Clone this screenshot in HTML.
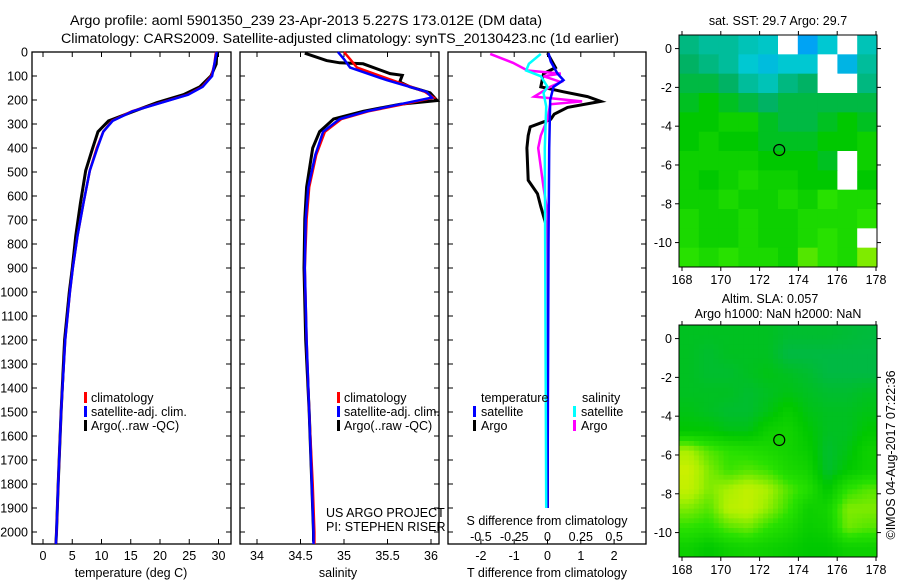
<!DOCTYPE html>
<html><head><meta charset="utf-8"><style>
html,body{margin:0;padding:0;background:#fff;}
svg{display:block;font-family:"Liberation Sans",sans-serif;}
text{fill:#000;}
</style></head><body>
<svg id="fig" width="900" height="580" viewBox="0 0 900 580" xmlns="http://www.w3.org/2000/svg">
<g font-size="13.5">
<text x="70" y="25" textLength="472" lengthAdjust="spacingAndGlyphs">Argo profile: aoml 5901350_239 23-Apr-2013 5.227S 173.012E (DM data)</text>
<text x="61" y="43" textLength="558" lengthAdjust="spacingAndGlyphs">Climatology: CARS2009. Satellite-adjusted climatology: synTS_20130423.nc (1d earlier)</text>
</g>
<g id="layer"></g>
</svg>
<script>
// ---------- profile data ----------
const tDepth = [0,10,50,100,145,178,211,247,287,332,400,494,631,765,900,1000,1200,1500,1800,2000,2050];
const tClim  = [29.6,29.5,29.3,28.8,27.2,24.7,20.2,15.2,11.8,10.3,9.2,8.0,6.9,5.9,5.1,4.6,3.8,3.1,2.6,2.3,2.2];
const tSat   = [29.7,29.6,29.3,28.9,27.3,24.8,20.3,15.3,11.9,10.3,9.3,8.0,6.9,5.9,5.1,4.6,3.8,3.1,2.6,2.3,2.2];
const tArgo  = [29.7,29.7,29.6,28.7,26.8,24.0,19.5,15.5,11.2,9.4,8.5,7.3,6.4,5.6,5.0,4.5,3.7,3.1,2.6,2.3,2.2];

const sDepth = [0,30,65,117,166,190,218,247,279,332,429,563,696,900,1200,1500,1800,2000,2050];
const sSat   = [34.93,35.0,35.07,35.49,35.95,36.01,35.64,35.26,34.95,34.76,34.67,34.59,34.56,34.55,34.57,34.6,34.63,34.65,34.65];
const sClim  = [35.0,35.07,35.15,35.55,35.93,36.03,35.68,35.28,34.97,34.78,34.68,34.6,34.57,34.55,34.57,34.6,34.64,34.66,34.66];
const sArgoDepth = [5,36,45,49,90,97,125,145,170,202,218,247,279,332,400,563,696,900,1200,1500,1800,2000,2040];
const sArgo  = [34.55,34.8,34.95,35.22,35.53,35.67,35.64,35.76,35.99,36.07,35.64,35.22,34.88,34.72,34.64,34.57,34.55,34.54,34.56,34.6,34.63,34.65,34.65];

const dTArgoDepth = [5,65,90,145,166,186,206,231,259,280,312,348,400,534,591,644,712,800,1900];
const dTArgo = [0,0.24,-0.12,-0.2,0.48,1.2,1.6,0.6,0.2,0.1,-0.52,-0.58,-0.62,-0.58,-0.3,-0.2,-0.06,0,0];
const dTSatDepth = [5,40,90,117,145,200,400,800,1900];
const dTSat = [0.03,0.1,0.3,0.48,0.18,0.08,0.05,0.03,0.0];
const dSArgoDepth = [8,45,77,90,101,125,145,186,206,218,280,348,400,563,672,1900];
const dSArgo = [-0.43,-0.26,-0.15,0.1,-0.03,0.1,0.02,-0.1,0.26,0.02,0,-0.05,-0.07,-0.03,0,0];
const dSSatDepth = [8,49,77,101,145,170,227,400,1900];
const dSSat = [-0.05,-0.14,-0.16,-0.05,0,-0.03,-0.01,-0.02,-0.01];

const depthTicks = [0,100,200,300,400,500,600,700,800,900,1000,1100,1200,1300,1400,1500,1600,1700,1800,1900,2000];
const tTicks = [0,5,10,15,20,25,30];
const sTicks = [34,34.5,35,35.5,36];
const dTTicks = [-2,-1,0,1,2];
const dSTicks = [-0.5,-0.25,0,0.25,0.5];
const dSTickLabels = ["-0.5","-0.25","0","0.25","0.5"];

// ---------- map data (0..1 colour index, null = no data) ----------
const lonTicks = [168,170,172,174,176,178];
const latTicks = [0,-2,-4,-6,-8,-10];
const sstGrid = [
[0.35,0.3,0.3,0.25,0.22,null,0.05,0.2,null,0.25],
[0.4,0.35,0.3,0.2,0.15,0.2,0.2,null,0.12,0.3],
[0.45,0.45,0.4,0.3,0.25,0.35,0.4,null,null,0.35],
[0.5,0.55,0.5,0.45,0.4,0.45,0.45,0.45,0.45,0.45],
[0.55,0.55,0.6,0.6,0.5,0.45,0.45,0.5,0.55,0.5],
[0.55,0.6,0.55,0.55,0.5,0.5,0.5,0.55,0.55,0.6],
[0.6,0.6,0.6,0.6,0.55,0.55,0.55,0.5,null,0.6],
[0.6,0.55,0.6,0.65,0.6,0.6,0.55,0.55,null,0.55],
[0.6,0.6,0.65,0.6,0.6,0.65,0.6,0.7,0.65,0.65],
[0.65,0.6,0.6,0.65,0.6,0.6,0.65,0.65,0.65,0.7],
[0.65,0.6,0.6,0.65,0.6,0.6,0.65,0.7,0.65,null],
[0.7,0.65,0.7,0.65,0.65,0.6,0.75,0.7,0.65,0.8]];
const slaGrid = [
[0.5,0.5,0.5,0.5,0.5,0.48,0.48,0.48,0.47,0.46],
[0.5,0.48,0.5,0.5,0.5,0.45,0.45,0.45,0.45,0.45],
[0.5,0.48,0.48,0.5,0.52,0.5,0.48,0.45,0.45,0.45],
[0.5,0.5,0.5,0.48,0.5,0.52,0.5,0.48,0.48,0.5],
[0.52,0.5,0.48,0.48,0.52,0.58,0.52,0.5,0.5,0.52],
[0.55,0.55,0.52,0.52,0.6,0.62,0.55,0.5,0.5,0.55],
[0.85,0.75,0.7,0.68,0.65,0.62,0.58,0.48,0.52,0.6],
[0.92,0.8,0.72,0.75,0.72,0.65,0.62,0.48,0.55,0.6],
[0.9,0.8,0.85,0.9,0.85,0.75,0.68,0.55,0.7,0.75],
[0.8,0.75,0.88,0.9,0.82,0.72,0.6,0.62,0.8,0.8],
[0.7,0.68,0.75,0.78,0.7,0.65,0.58,0.6,0.78,0.75],
[0.6,0.55,0.6,0.62,0.6,0.58,0.55,0.55,0.6,0.6]];
const argoLon = 173.012, argoLat = -5.227;

// ---------- helpers ----------
const NS = "http://www.w3.org/2000/svg";
const layer = document.getElementById('layer');
function mk(tag, attrs, parent){
  const e = document.createElementNS(NS, tag);
  for (const k in attrs) e.setAttribute(k, attrs[k]);
  (parent||layer).appendChild(e);
  return e;
}
const yTop = 52, yPer = 0.24, yBot = 544;
const yD = d => yTop + d*yPer;

function panel(name, x0, x1){
  const g = mk('g', {});
  
  
  const r = mk('rect', {x:x0, y:yTop, width:x1-x0, height:yBot-yTop, fill:'none', stroke:'#000', 'stroke-width':1.3}, g);
  
  
  depthTicks.forEach(d => {
    const t1 = mk('line', {x1:x0, x2:x0+5, y1:yD(d), y2:yD(d), stroke:'#000'}, g);
    
    
    const t2 = mk('line', {x1:x1-5, x2:x1, y1:yD(d), y2:yD(d), stroke:'#000'}, g);
    
    
  });
  return g;
}
function xTicks(g, x0, x1, ticks, fx, labels, ly){
  ticks.forEach((v,i) => {
    const x = fx(v);
    const a = mk('line', {x1:x, x2:x, y1:yTop, y2:yTop+5, stroke:'#000'}, g);
    
    
    const b = mk('line', {x1:x, x2:x, y1:yBot-5, y2:yBot, stroke:'#000'}, g);
    
    
    if (labels){
      const t = mk('text', {x:x, y:ly, 'text-anchor':'middle', 'font-size':12.5}, g);
      
      
      t.textContent = labels[i];
    }
  });
}
function series(g, name, xs, ds, fx, color, w){
  const pts = xs.map((v,i) => fx(v).toFixed(1) + ',' + yD(ds[i]).toFixed(1)).join(' ');
  const p = mk('polyline', {points:pts, fill:'none', stroke:color, 'stroke-width':w, 'stroke-linejoin':'miter'}, g);
  
  
}
function txt(g, name, s, x, y, size, anchor){
  const t = mk('text', {x:x, y:y, 'font-size':size||12.5, 'text-anchor':anchor||'start'}, g);
  
  
  t.textContent = s;
  return t;
}
function legBar(g, name, x, y, color){
  const r = mk('rect', {x:x, y:y-10, width:3, height:11, fill:color}, g);
  
  
}

// depth labels
const dl = mk('g', {});


depthTicks.forEach(d => txt(dl, 'depth-tick-label', String(d), 28, yD(d)+4.5, 12.5, 'end'));

// ---------- panel 1: temperature ----------
const fT = v => 43 + v*5.85;
const p1 = panel('temperature-panel', 32, 231);
xTicks(p1, 32, 231, tTicks, fT, tTicks.map(String), 560);
txt(p1, 'x-axis-title-temperature', 'temperature (deg C)', 131, 577, 12.5, 'middle');
series(p1, 'argo-temperature-line', tArgo, tDepth, fT, '#000', 3);
series(p1, 'climatology-temperature-line', tClim, tDepth, fT, '#f00', 2.5);
series(p1, 'satellite-temperature-line', tSat, tDepth, fT, '#00f', 2.5);
legBar(p1, 'legend-climatology-swatch', 84, 402, '#f00');
txt(p1, 'legend-climatology', 'climatology', 91, 402);
legBar(p1, 'legend-satellite-swatch', 84, 416, '#00f');
txt(p1, 'legend-satellite', 'satellite-adj. clim.', 91, 416);
legBar(p1, 'legend-argo-swatch', 84, 430, '#000');
txt(p1, 'legend-argo', 'Argo(..raw -QC)', 91, 430);

// ---------- panel 2: salinity ----------
const fS = v => 257 + (v-34)*87;
const p2 = panel('salinity-panel', 240, 439);
xTicks(p2, 240, 439, sTicks, fS, ['34','34.5','35','35.5','36'], 560);
txt(p2, 'x-axis-title-salinity', 'salinity', 338, 577, 12.5, 'middle');
series(p2, 'argo-salinity-line', sArgo, sArgoDepth, fS, '#000', 3);
series(p2, 'climatology-salinity-line', sClim, sDepth, fS, '#f00', 2.5);
series(p2, 'satellite-salinity-line', sSat, sDepth, fS, '#00f', 2.5);
legBar(p2, 'legend-climatology-swatch', 337, 402, '#f00');
txt(p2, 'legend-climatology', 'climatology', 344, 402);
legBar(p2, 'legend-satellite-swatch', 337, 416, '#00f');
txt(p2, 'legend-satellite', 'satellite-adj. clim.', 344, 416);
legBar(p2, 'legend-argo-swatch', 337, 430, '#000');
txt(p2, 'legend-argo', 'Argo(..raw -QC)', 344, 430);
txt(p2, 'project-credit', 'US ARGO PROJECT', 326, 517);
txt(p2, 'pi-credit', 'PI: STEPHEN RISER', 326, 531);

// ---------- panel 3: differences ----------
const fDT = v => 547.5 + v*33.3;
const fDS = v => 547.5 + v*133.2;
const p3 = panel('difference-panel', 448, 646);
xTicks(p3, 448, 646, dTTicks, fDT, dTTicks.map(String), 560);
txt(p3, 's-diff-axis-title', 'S difference from climatology', 547, 525, 12.5, 'middle');
series(p3, 'argo-t-diff-line', dTArgo, dTArgoDepth, fDT, '#000', 3);
series(p3, 'argo-s-diff-line', dSArgo, dSArgoDepth, fDS, '#f0f', 2.5);
series(p3, 'satellite-t-diff-line', dTSat, dTSatDepth, fDT, '#00f', 2.5);
series(p3, 'satellite-s-diff-line', dSSat, dSSatDepth, fDS, '#0ff', 2.5);
dSTicks.forEach((v,i) => txt(p3, 's-diff-tick-label', dSTickLabels[i], fDS(v), 541, 12.5, 'middle'));
txt(p3, 't-diff-axis-title', 'T difference from climatology', 547, 577, 12.5, 'middle');
txt(p3, 'legend-temperature-heading', 'temperature', 481, 402);
txt(p3, 'legend-salinity-heading', 'salinity', 582, 402);
legBar(p3, 'legend-t-sat-swatch', 473, 416, '#00f');
txt(p3, 'legend-t-satellite', 'satellite', 481, 416);
legBar(p3, 'legend-t-argo-swatch', 473, 430, '#000');
txt(p3, 'legend-t-argo', 'Argo', 481, 430);
legBar(p3, 'legend-s-sat-swatch', 573, 416, '#0ff');
txt(p3, 'legend-s-satellite', 'satellite', 581, 416);
legBar(p3, 'legend-s-argo-swatch', 573, 430, '#f0f');
txt(p3, 'legend-s-argo', 'Argo', 581, 430);

// ---------- maps ----------
const stops = [[0,[0,150,255]],[0.2,[0,200,210]],[0.4,[0,178,100]],[0.55,[0,200,0]],[0.7,[40,225,0]],[0.85,[170,240,0]],[1,[240,240,0]]];
function cmap(v){
  for (let i=1;i<stops.length;i++){
    if (v <= stops[i][0]){
      const a = stops[i-1], b = stops[i], t = (v-a[0])/(b[0]-a[0]);
      const c = a[1].map((x,k)=>Math.round(x+(b[1][k]-x)*t));
      return 'rgb('+c.join(',')+')';
    }
  }
  return 'rgb(240,240,0)';
}
function sample(grid, fr, fc){
  const rows = grid.length, cols = grid[0].length;
  const r = Math.min(Math.max(fr-0.5,0),rows-1), c = Math.min(Math.max(fc-0.5,0),cols-1);
  const r0 = Math.floor(r), c0 = Math.floor(c);
  const r1 = Math.min(r0+1,rows-1), c1 = Math.min(c0+1,cols-1);
  const tr = r-r0, tc = c-c0;
  return grid[r0][c0]*(1-tr)*(1-tc)+grid[r0][c1]*(1-tr)*tc+grid[r1][c0]*tr*(1-tc)+grid[r1][c1]*tr*tc;
}
function drawMap(name, grid, top, smooth){
  const mx0 = 679, mx1 = 877, lonPer = 19.4;
  const latTop = 0.7, latPer = 19.4;
  const fx = lon => 682 + (lon-168)*lonPer;
  const fy = lat => top + (latTop - lat)*latPer;
  const g = mk('g', {});
  
  
  const h = 232;
  const rows = grid.length, cols = grid[0].length;
  const cw = (mx1-mx0)/cols, ch = h/rows;
  if (smooth){
    const sub = 4;
    for (let r=0;r<rows*sub;r++) for (let c=0;c<cols*sub;c++){
      const v = sample(grid, (r+0.5)/sub, (c+0.5)/sub);
      const cell = mk('rect', {x:mx0+c*cw/sub, y:top+r*ch/sub, width:cw/sub+0.5, height:ch/sub+0.5, fill:cmap(v)}, g);
      
      
    }
  } else {
    grid.forEach((row, r) => row.forEach((v, c) => {
      const cell = mk('rect', {x:mx0+c*cw, y:top+r*ch, width:cw+0.5, height:ch+0.5, fill: v===null ? '#fff' : cmap(v)}, g);
      
      
    }));
  }
  const fr = mk('rect', {x:mx0, y:top, width:mx1-mx0, height:h, fill:'none', stroke:'#000', 'stroke-width':1}, g);
  
  
  lonTicks.forEach(l => {
    const x = fx(l);
    const a = mk('line', {x1:x, x2:x, y1:top-4, y2:top, stroke:'#000'}, g);
    
    
    const b = mk('line', {x1:x, x2:x, y1:top+h, y2:top+h+4, stroke:'#000'}, g);
    
    
    txt(g, 'lon-tick-label', String(l), x, top+h+17, 12.5, 'middle');
  });
  latTicks.forEach(l => {
    const y = fy(l);
    const a = mk('line', {x1:mx0-4, x2:mx0, y1:y, y2:y, stroke:'#000'}, g);
    
    
    const b = mk('line', {x1:mx1, x2:mx1+4, y1:y, y2:y, stroke:'#000'}, g);
    
    
    txt(g, 'lat-tick-label', String(l), 672, y+4.5, 12.5, 'end');
  });
  const c = mk('circle', {cx:fx(argoLon), cy:fy(argoLat), r:5.5, fill:'none', stroke:'#000', 'stroke-width':1.2}, g);
  
  
  return g;
}
const m1 = drawMap('sst-map', sstGrid, 35, false);
txt(m1, 'sst-map-title', 'sat. SST: 29.7 Argo: 29.7', 778, 25, 12.5, 'middle');
const m2 = drawMap('sla-map', slaGrid, 325, true);
txt(m2, 'sla-map-title', 'Altim. SLA: 0.057', 770, 303, 12.5, 'middle');
txt(m2, 'sla-map-subtitle', 'Argo h1000: NaN h2000: NaN', 778, 318, 12.5, 'middle');
const stamp = txt(m2, 'imos-timestamp', '©IMOS 04-Aug-2017 07:22:36', 0, 0, 12.5, 'middle');
stamp.setAttribute('transform', 'translate(895,455) rotate(-90)');
</script>
</body></html>
